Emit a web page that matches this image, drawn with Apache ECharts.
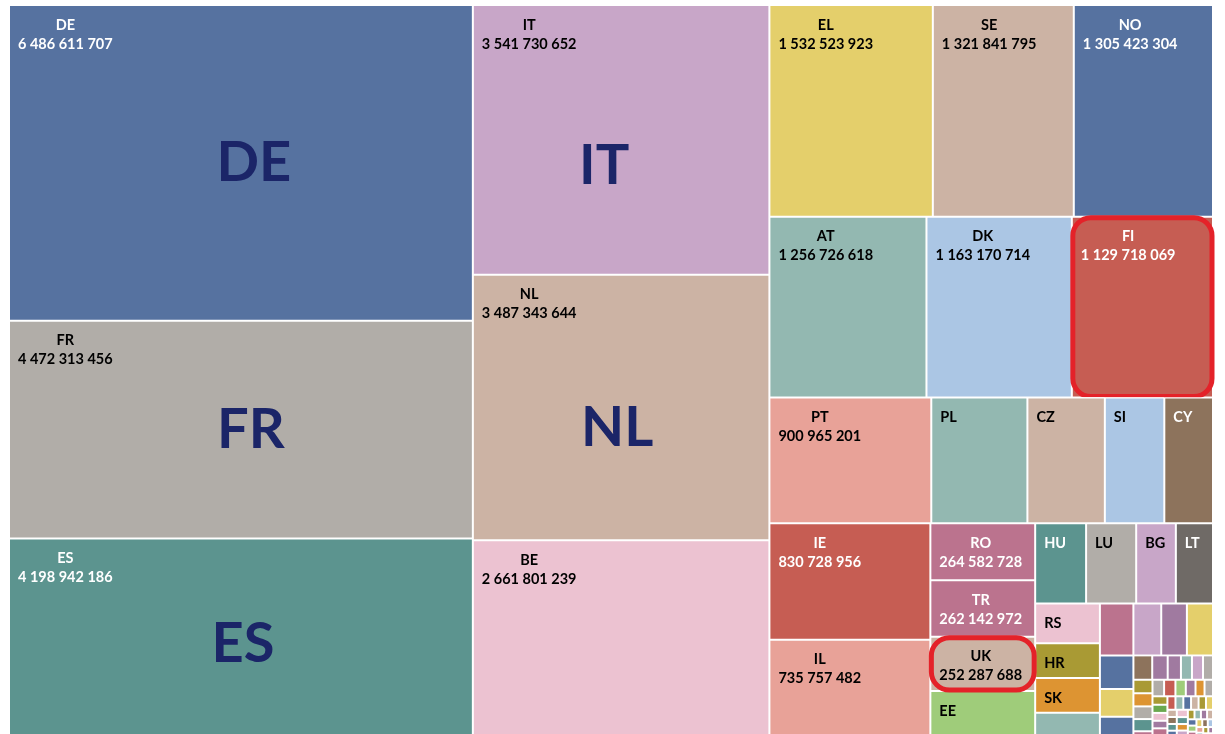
<!DOCTYPE html>
<html>
<head>
<meta charset="utf-8">
<script src="https://cdn.jsdelivr.net/npm/echarts@6/dist/echarts.min.js"></script>
<style>
  html, body { margin: 0; background: #fff; }
  #main { width: 1225px; height: 734px; }
</style>
</head>
<body>
<div id="main"></div>
<script>
// countries in the order the original treemap was laid out (not strictly sorted)
const names = ['DE', 'FR', 'ES', 'IT', 'NL', 'BE', 'EL', 'SE', 'NO', 'AT', 'DK', 'FI', 'PT', 'PL', 'CZ', 'SI', 'CY',
  'IE', 'IL', 'RO', 'TR', 'UK', 'EE', 'HU', 'LU', 'BG', 'LT', 'RS', 'HR', 'SK'];
const values = [6486611707, 4472313456, 4198942186, 3541730652, 3487343644, 2661801239, 1532523923, 1321841795,
  1305423304, 1256726618, 1163170714, 1129718069, 900965201, 535000000, 431000000, 331000000, 271000000,
  830728956, 735757482, 264582728, 262142972, 252287688, 241000000, 181000000, 178000000, 141000000, 132000000,
  114000000, 100000000, 99000000];
// unlabeled small cells (bottom right corner)
const smallValues = [87000000, 77000000, 64000000, 59000000, 60000000,
  50000000, 41000000, 39000000,
  20300000, 16700000, 14300000, 11900000, 11900000, 10800000,
  11400000, 11100000, 10700000, 10300000, 9900000,
  8500000, 8300000, 7600000, 7100000, 6600000, 6200000,
  5600000, 5400000, 5200000, 5000000, 4800000,
  4900000, 4800000, 4700000, 4600000, 4500000, 4400000,
  4200000, 3000000, 2900000, 2800000, 2600000, 2500000,
  3600000, 3400000, 3200000, 3100000, 3000000, 2800000, 2700000, 2600000, 2500000, 2400000, 2300000, 2200000,
  2100000, 2000000, 1900000, 1800000, 1700000, 1600000, 1500000, 1400000, 1300000, 1200000, 1100000, 1000000, 900000];

const fullLabel = ['DE', 'FR', 'ES', 'IT', 'NL', 'BE', 'EL', 'SE', 'NO', 'AT', 'DK', 'FI', 'PT', 'IE', 'IL', 'RO', 'TR', 'UK'];
const nameOnly = ['PL', 'CZ', 'SI', 'CY', 'EE', 'HU', 'LU', 'BG', 'LT', 'RS', 'HR', 'SK'];
const bigLabels = ['DE', 'FR', 'ES', 'IT', 'NL'];
const framed = ['FI', 'UK'];
// the strip that Excel laid out side by side
const stripRow = ['PT', 'PL', 'CZ', 'SI', 'CY'];

// styles
const C = {
  blue: '#5672a0', grey: '#b1ada8', teal: '#5c948f', lilac: '#c8a6c8', tan: '#ccb3a4', pink: '#ecc2d1',
  yellow: '#e4cf6b', sage: '#93b8b1', lblue: '#abc6e4', red: '#c65d53', salmon: '#e8a298', brown: '#8d735c',
  mauve: '#bb738e', green: '#9fcc7a', dgrey: '#6f6a66', olive: '#a99a34', orange: '#dd9432', purple: '#a07aa0',
  green2: '#6aa84f'
};
const colorKeys = ['blue', 'grey', 'teal', 'lilac', 'tan', 'pink', 'yellow', 'tan', 'blue', 'sage', 'lblue', 'red',
  'salmon', 'sage', 'tan', 'lblue', 'brown', 'red', 'salmon', 'mauve', 'mauve', 'tan', 'green', 'teal', 'grey',
  'lilac', 'dgrey', 'pink', 'olive', 'orange'];
const smallColorKeys = ['sage', 'mauve', 'lilac', 'purple', 'yellow',
  'blue', 'yellow', 'blue',
  'brown', 'purple', 'purple', 'sage', 'lilac', 'grey',
  'olive', 'orange', 'grey', 'teal', 'mauve',
  'grey', 'red', 'green', 'purple', 'orange', 'grey',
  'olive', 'green2', 'pink', 'purple', 'mauve',
  'lblue', 'red', 'sage', 'blue', 'tan', 'olive',
  'yellow', 'tan', 'brown', 'teal', 'blue', 'lilac',
  'pink', 'teal', 'orange', 'lilac', 'red', 'olive', 'sage', 'purple', 'tan', 'blue', 'green', 'mauve', 'grey',
  'yellow', 'brown', 'lblue', 'salmon', 'teal', 'pink', 'olive', 'purple', 'orange', 'sage', 'tan', 'blue'];
const whiteText = ['DE', 'ES', 'NO', 'FI', 'CY', 'IE', 'RO', 'TR', 'HU', 'LT'];
// nudges of the big country codes away from the cell centre
const bigShift = { DE: [13, 0], FR: [10, 0], ES: [2, 3], IT: [-17, 26], NL: [-4, 20] };

const FONT = 'Lato';
const FS = 14.5;
const ctx = document.createElement('canvas').getContext('2d');
ctx.font = 'bold ' + FS + 'px ' + FONT;
const sep = v => String(v).replace(/\B(?=(\d{3})+(?!\d))/g, ' ');
const clear = 'rgba(0,0,0,0)';

function tok(color, pad) {
  return {
    color: color, fontFamily: FONT, fontWeight: 'bold', fontSize: FS, lineHeight: 19,
    align: 'left', padding: [0, 0, 0, pad || 0]
  };
}

function mainLabel(name, value) {
  const c = whiteText.includes(name) ? '#fff' : '#000';
  if (fullLabel.includes(name)) {
    // centre the code above the number, like the original labels
    const pad = Math.max(0, (ctx.measureText(sep(value)).width - ctx.measureText(name).width) / 2);
    return { show: true, rich: { n: tok(c, pad), v: tok(c) } };
  }
  if (nameOnly.includes(name)) return { show: true, rich: { n: tok(c), v: tok(c) } };
  return { show: false };
}

function overlayLabel(name) {
  if (bigLabels.includes(name)) return { show: true, formatter: name };
  if (framed.includes(name)) {
    return { show: true, formatter: ' ', borderColor: '#e42229', borderWidth: 5, borderRadius: 18 };
  }
  return { show: false };
}

const allNames = names.concat(smallValues.map((v, i) => 'other ' + (i + 1)));
const allValues = values.concat(smallValues);
const allColors = colorKeys.concat(smallColorKeys).map(k => C[k]);

// ECharts only lays rows along the shorter side; grouping keeps the
// original arrangement (PT..CY strip above the rest of the corner)
const nest = items => items.length === 1 ? items[0]
  : { name: '', children: [nest(items.slice(0, -1)), items[items.length - 1]] };

function buildTree(makeLeaf) {
  const L = n => makeLeaf(allNames.indexOf(n));
  const firstRows = names.slice(0, names.indexOf('PT')).map(L);
  const strip = nest(stripRow.map(L));
  const corner = allNames.slice(names.indexOf('IE')).map(L);
  return firstRows.concat([{ name: '', children: [strip, { name: '', children: corner }] }]);
}

const mainData = buildTree(i => ({
  name: allNames[i], value: allValues[i],
  itemStyle: { color: allColors[i], borderWidth: 1, borderColor: '#fff' },
  label: mainLabel(allNames[i], allValues[i])
}));
const overlayData = buildTree(i => ({
  name: allNames[i], value: allValues[i],
  itemStyle: { color: clear, borderWidth: 1, borderColor: clear },
  label: overlayLabel(allNames[i])
}));

const common = {
  type: 'treemap',
  left: 9, top: 5, width: 1204, height: 738,
  sort: false,
  visibleMin: 0,
  roam: false,
  nodeClick: false,
  breadcrumb: { show: false },
  emphasis: { disabled: true }
};

var myChart = echarts.init(document.getElementById('main'));
myChart.setOption({
  animation: false,
  series: [
    Object.assign({}, common, {
      itemStyle: { borderWidth: 0, gapWidth: 0, borderColor: '#fff' },
      label: {
        show: true,
        padding: [9.5, 3, 0, 8],
        formatter: p => fullLabel.includes(p.name) ? '{n|' + p.name + '}\n{v|' + sep(p.value) + '}' : '{n|' + p.name + '}',
        rich: { n: tok('#000'), v: tok('#000') }
      },
      data: mainData
    }),
    Object.assign({}, common, {
      silent: true,
      itemStyle: { color: clear, borderWidth: 0, gapWidth: 0, borderColor: clear },
      levels: [{ itemStyle: { color: clear, borderColor: clear } }],
      label: {
        position: 'inside',
        padding: 0,
        color: '#1b2568',
        fontFamily: FONT,
        fontWeight: 'bold',
        fontSize: 56,
        lineHeight: 60
      },
      labelLayout: p => {
        const s = bigShift[p.text];
        return s ? { dx: s[0], dy: s[1] } : {};
      },
      data: overlayData
    })
  ]
});
</script>
</body>
</html>
